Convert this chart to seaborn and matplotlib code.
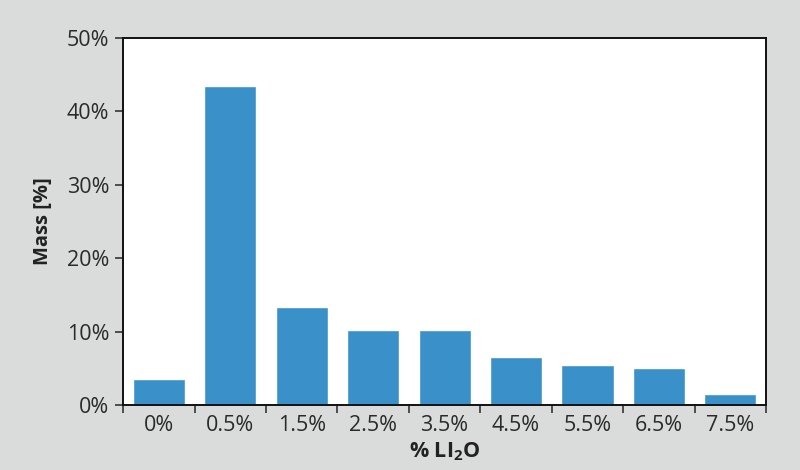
import numpy as np
import pandas as pd
import seaborn as sns
import matplotlib
matplotlib.use("Agg")
import matplotlib.pyplot as plt
from matplotlib.ticker import FixedLocator, PercentFormatter

# data
categories = ["0%", "0.5%", "1.5%", "2.5%", "3.5%", "4.5%", "5.5%", "6.5%", "7.5%"]
mass = [3.6, 43.5, 13.4, 10.2, 10.2, 6.6, 5.4, 5.1, 1.5]

sns.set_theme(style="white")
plt.rcParams["font.family"] = ["Open Sans", "DejaVu Sans"]
plt.rcParams["mathtext.fontset"] = "custom"
plt.rcParams["mathtext.rm"] = "Open Sans"
plt.rcParams["mathtext.bf"] = "Open Sans:bold"

bg = "#dadcdb"
df = pd.DataFrame({"cat": categories, "mass": mass})

fig, ax = plt.subplots(figsize=(8, 4.7), dpi=100)
fig.patch.set_facecolor(bg)
ax.set_facecolor("white")

sns.barplot(data=df, x="cat", y="mass", color="#3a91c9", saturation=1,
            width=0.73, ax=ax)

ax.set_ylim(0, 50)
ax.set_xlim(-0.5, len(categories) - 0.5)
ax.set_yticks(np.arange(0, 51, 10))
ax.yaxis.set_major_formatter(PercentFormatter(decimals=0))

# ticks between categories
ax.xaxis.set_minor_locator(FixedLocator(np.arange(-0.5, len(categories), 1)))
ax.tick_params(axis="x", which="major", length=0, labelsize=15.5, colors="#2a2a2a", pad=7)
ax.tick_params(axis="x", which="minor", length=6, width=1.2, color="#333333", bottom=True)
ax.tick_params(axis="y", which="major", length=6, width=1.2, color="#333333",
               left=True, labelsize=15.5, labelcolor="#2a2a2a", pad=4)

for s in ax.spines.values():
    s.set_color("#111111")
    s.set_linewidth(1.4)

ax.set_xlabel(r"% LI$_\mathbf{2}$O", fontsize=15.5, fontweight="bold", color="#222222", labelpad=3)
ax.set_ylabel("Mass [%]", fontsize=14.5, fontweight="bold", color="#222222", labelpad=10)

fig.subplots_adjust(left=0.154, right=0.9575, top=0.919, bottom=0.138)
fig.savefig("out.png", dpi=100, facecolor=bg)
